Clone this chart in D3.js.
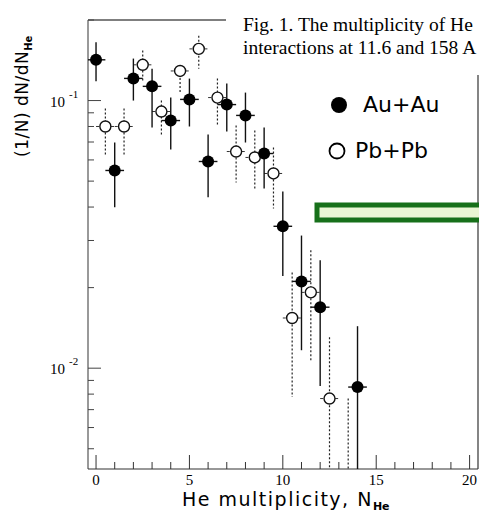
<!DOCTYPE html>
<html lang="en">
<head>
<meta charset="UTF-8">
<title>He multiplicity</title>
<style>
  body { margin: 0; background: #fff; }
  svg { display: block; }
  .serif { font-family: "Liberation Serif", "DejaVu Serif", serif; }
  .sans { font-family: "DejaVu Sans", "Liberation Sans", sans-serif; }
</style>
</head>
<body>
<div id="chart"></div>
<script src="https://d3js.org/d3.v7.min.js"></script>
<script>
    // Au+Au (filled)
    var auX   = [0, 1, 2, 3, 4, 5, 6, 7, 8, 9, 10, 11, 12, 14];
    var auY   = [0.142, 0.0548, 0.121, 0.113, 0.0842, 0.101, 0.0592, 0.0966, 0.088, 0.0634, 0.0339, 0.0211, 0.0169, 0.0085];
    var auHi  = [0.165, 0.0697, 0.1435, 0.1316, 0.1026, 0.1208, 0.0747, 0.1157, 0.1071, 0.0793, 0.0457, 0.0313, 0.0253, 0.01435];
    var auLo  = [0.118, 0.0399, 0.1, 0.0793, 0.0657, 0.080, 0.0435, 0.0766, 0.0697, 0.0469, 0.0221, 0.01167, 0.00857, 0.003];

    // Pb+Pb (open)
    var pbX   = [0.5, 1.5, 2.5, 3.5, 4.5, 5.5, 6.5, 7.5, 8.5, 9.5, 10.5, 11.5, 12.5, 13.5];
    var pbY   = [0.080, 0.080, 0.136, 0.091, 0.129, 0.156, 0.1026, 0.0645, 0.0613, 0.0534, 0.0154, 0.0192, 0.0077, null];
    var pbHi  = [0.0934, 0.0934, 0.1537, 0.1, 0.13, 0.1748, 0.1208, 0.0807, 0.0773, 0.0668, 0.0228, 0.0276, 0.01306, 0.0077];
    var pbLo  = [0.0623, 0.0623, 0.1187, 0.074, 0.107, 0.1316, 0.0807, 0.0494, 0.0462, 0.0395, 0.0078, 0.0107, 0.003, 0.003];

    var xMajor = [0, 5, 10, 15, 20];
    var yMajor = [0.1, 0.01];
    var yMajorLabels = ["-1", "-2"];

    var width = 479, height = 512;
    var mLeft = 88, mRight = 478, mTop = 20, mBottom = 469;

    var svg = d3.select("#chart").append("svg")
        .attr("width", width)
        .attr("height", height);

    var x = d3.scaleLinear().domain([-0.43, 20.45]).range([mLeft, mRight]);
    var y = d3.scaleLog().domain([0.0042, 0.2]).range([mBottom, mTop]);

    svg.append("clipPath").attr("id", "plot")
        .append("rect").attr("x", mLeft).attr("y", mTop)
        .attr("width", mRight - mLeft).attr("height", mBottom - mTop);

    // frame
    svg.append("line").attr("x1", mLeft).attr("x2", mLeft).attr("y1", mTop).attr("y2", mBottom)
        .attr("stroke", "#777").attr("stroke-width", 1.5);
    svg.append("line").attr("x1", mLeft).attr("x2", 226).attr("y1", mTop).attr("y2", mTop)
        .attr("stroke", "#555").attr("stroke-width", 1.5);
    svg.append("line").attr("x1", mRight).attr("x2", mRight).attr("y1", 75).attr("y2", mBottom)
        .attr("stroke", "#333").attr("stroke-width", 1.2);
    svg.append("line").attr("x1", mLeft).attr("x2", mRight).attr("y1", mBottom).attr("y2", mBottom)
        .attr("stroke", "#333").attr("stroke-width", 1.2);

    // x ticks (inward)
    var xTicks = d3.range(0, 21);
    svg.append("g").selectAll("line").data(xTicks).enter().append("line")
        .attr("x1", d => x(d)).attr("x2", d => x(d))
        .attr("y1", mBottom)
        .attr("y2", d => mBottom - (xMajor.indexOf(d) >= 0 ? 14 : 7))
        .attr("stroke", "#333").attr("stroke-width", 1);
    svg.append("g").selectAll("text").data(xMajor).enter().append("text")
        .attr("class", "serif")
        .attr("x", d => x(d)).attr("y", 485)
        .attr("text-anchor", "middle").attr("font-size", 15)
        .text(d => d);

    // y ticks (inward)
    var yTicks = [];
    [0.001, 0.01, 0.1].forEach(function (dec) {
        for (var k = 1; k < 10; k++) {
            var v = dec * k;
            if (v >= y.domain()[0] && v <= y.domain()[1]) yTicks.push(v);
        }
    });
    svg.append("g").selectAll("line").data(yTicks).enter().append("line")
        .attr("x1", mLeft).attr("y1", d => y(d)).attr("y2", d => y(d))
        .attr("x2", d => mLeft + (yMajor.some(m => Math.abs(m - d) < 1e-9) ? 13 : 6))
        .attr("stroke", "#444").attr("stroke-width", 1);
    var yl = svg.append("g").selectAll("text").data(yMajor).enter().append("text")
        .attr("class", "serif")
        .attr("x", 50).attr("y", d => y(d) + 6)
        .attr("font-size", 15);
    yl.append("tspan").text("10");
    yl.append("tspan").attr("dx", 4).attr("dy", -9).attr("font-size", 11)
        .text((d, i) => yMajorLabels[i]);

    var plot = svg.append("g").attr("clip-path", "url(#plot)");

    // Pb+Pb error bars (dashed)
    var pb = pbX.map((d, i) => ({x: d, y: pbY[i], hi: pbHi[i], lo: pbLo[i]}));
    plot.append("g").selectAll("line").data(pb).enter().append("line")
        .attr("x1", d => x(d.x)).attr("x2", d => x(d.x))
        .attr("y1", d => y(d.hi)).attr("y2", d => y(d.lo))
        .attr("stroke", "#222").attr("stroke-width", 1.2)
        .attr("stroke-dasharray", "2,2");
    plot.append("g").selectAll("line").data(pb.filter(d => d.y != null)).enter().append("line")
        .attr("x1", d => x(d.x - 0.5)).attr("x2", d => x(d.x + 0.5))
        .attr("y1", d => y(d.y)).attr("y2", d => y(d.y))
        .attr("stroke", "#333").attr("stroke-width", 1)
        .attr("stroke-dasharray", "3,2");

    // Au+Au error bars (solid)
    var au = auX.map((d, i) => ({x: d, y: auY[i], hi: auHi[i], lo: auLo[i]}));
    plot.append("g").selectAll("line").data(au).enter().append("line")
        .attr("x1", d => x(d.x)).attr("x2", d => x(d.x))
        .attr("y1", d => y(d.hi)).attr("y2", d => y(d.lo))
        .attr("stroke", "#111").attr("stroke-width", 1.4);
    plot.append("g").selectAll("line").data(au).enter().append("line")
        .attr("x1", d => x(d.x - 0.5)).attr("x2", d => x(d.x + 0.5))
        .attr("y1", d => y(d.y)).attr("y2", d => y(d.y))
        .attr("stroke", "#111").attr("stroke-width", 1.4);

    plot.append("g").selectAll("circle").data(pb.filter(d => d.y != null)).enter().append("circle")
        .attr("cx", d => x(d.x)).attr("cy", d => y(d.y)).attr("r", 5.5)
        .attr("fill", "#fff").attr("stroke", "#111").attr("stroke-width", 1.4);
    plot.append("g").selectAll("circle").data(au).enter().append("circle")
        .attr("cx", d => x(d.x)).attr("cy", d => y(d.y)).attr("r", 6)
        .attr("fill", "#000");

    // legend
    svg.append("circle").attr("cx", 339).attr("cy", 105).attr("r", 8).attr("fill", "#000");
    svg.append("text").attr("class", "sans").attr("x", 363).attr("y", 112)
        .attr("font-size", 22).text("Au+Au");
    svg.append("circle").attr("cx", 337).attr("cy", 151).attr("r", 7.5)
        .attr("fill", "#fff").attr("stroke", "#000").attr("stroke-width", 1.8);
    svg.append("text").attr("class", "sans").attr("x", 355).attr("y", 158)
        .attr("font-size", 22).text("Pb+Pb");

    // green highlight box
    svg.append("rect").attr("x", 317).attr("y", 205).attr("width", 180).attr("height", 15)
        .attr("fill", "#eaf6d4").attr("stroke", "#17701a").attr("stroke-width", 5);

    // caption text
    svg.append("text").attr("class", "serif").attr("x", 243).attr("y", 31)
        .attr("font-size", 19.5).text("Fig. 1. The multiplicity of He");
    svg.append("text").attr("class", "serif").attr("x", 243).attr("y", 54)
        .attr("font-size", 19.5).text("interactions at 11.6 and 158 A");

    // axis titles
    var xt = svg.append("text").attr("class", "sans")
        .attr("x", 182).attr("y", 506).attr("font-size", 19)
        .attr("letter-spacing", 1.5);
    xt.append("tspan").text("He multiplicity, N");
    xt.append("tspan").attr("dy", 4).attr("font-size", 11).attr("font-weight", "bold")
        .attr("letter-spacing", 0).text("He");

    var ytl = svg.append("text").attr("class", "sans")
        .attr("transform", "translate(28,157) rotate(-90)").attr("font-size", 17)
        .attr("letter-spacing", 0.5);
    ytl.append("tspan").text("(1/N) dN/dN");
    ytl.append("tspan").attr("dy", 4).attr("font-size", 10).attr("font-weight", "bold")
        .attr("letter-spacing", 0).text("He");
</script>
</body>
</html>
